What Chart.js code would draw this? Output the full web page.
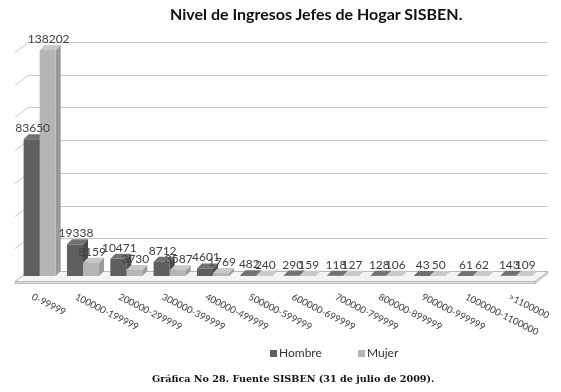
<!DOCTYPE html>
<html>
<head>
<meta charset="utf-8">
<script src="https://cdn.jsdelivr.net/npm/chart.js@4.4.1/dist/chart.umd.min.js"></script>
<style>
  body { margin: 0; background: #fff; }
  #wrap { position: relative; width: 561px; height: 392px; overflow: hidden; }
  #chart { position: absolute; left: 0; top: 0; }
  .title { position: absolute; left: 170px; top: 4px; font: bold 16px Lato, sans-serif; color: #111; white-space: nowrap; }
  .legend { position: absolute; top: 345px; font: 12px Lato, sans-serif; color: #333; white-space: nowrap; }
  .legend i { display: inline-block; width: 7px; height: 7px; margin-right: 2px; }
  .caption { position: absolute; left: 152px; top: 373px; font: bold 9.6px "DejaVu Serif", serif; color: #111; white-space: nowrap; }
</style>
</head>
<body>
<div id="wrap">
  <canvas id="chart" width="561" height="392"></canvas>
  <div class="title">Nivel de Ingresos Jefes de Hogar SISBEN.</div>
  <div class="legend" style="left:270px"><i style="background:#5f5f5f"></i>Hombre</div>
  <div class="legend" style="left:358px"><i style="background:#b5b5b5"></i>Mujer</div>
  <div class="caption">Gráfica No 28. Fuente SISBEN (31 de julio de 2009).</div>
</div>
<script>
const categories = ['0-99999', '100000-199999', '200000-299999', '300000-399999', '400000-499999',
  '500000-599999', '600000-699999', '700000-799999', '800000-899999', '900000-999999',
  '1000000-1100000', '>1100000'];
const hombre = [83650, 19338, 10471, 8712, 4601, 482, 290, 118, 128, 43, 61, 143];
const mujer = [138202, 8159, 3730, 3587, 1769, 240, 159, 127, 106, 50, 62, 109];
const yMax = 140000;
const yStep = 20000;

// colours for front, side and top faces
const shades = [
  { front: '#5f5f5f', side: '#4b4b4b', top: '#727272' },
  { front: '#b5b5b5', side: '#9a9a9a', top: '#c9c9c9' }
];

const depth = 5;

function poly(ctx, pts, fill, stroke) {
  ctx.beginPath();
  ctx.moveTo(pts[0][0], pts[0][1]);
  for (let i = 1; i < pts.length; i++) ctx.lineTo(pts[i][0], pts[i][1]);
  ctx.closePath();
  if (fill) { ctx.fillStyle = fill; ctx.fill(); }
  if (stroke) { ctx.strokeStyle = stroke; ctx.lineWidth = 1; ctx.stroke(); }
}

const fake3d = {
  id: 'fake3d',
  beforeDatasetsDraw(chart) {
    const ctx = chart.ctx;
    const a = chart.chartArea;
    const ys = chart.scales.y;
    ctx.save();
    // back wall grid + left wall slants
    ctx.strokeStyle = '#c8c8c8';
    ctx.lineWidth = 1;
    for (let v = yStep; v <= yMax; v += yStep) {
      const yf = Math.round(ys.getPixelForValue(v)) + 0.5;
      ctx.beginPath();
      ctx.moveTo(a.left - 3, yf + 5);
      ctx.lineTo(a.left + 10, yf - 5);
      ctx.lineTo(a.right + 10, yf - 5);
      ctx.stroke();
    }
    // floor
    const y0 = Math.round(ys.getPixelForValue(0)) + 0.5;
    poly(ctx, [[a.left - 3, y0 + 5], [a.right - 3, y0 + 5], [a.right + 10, y0 - 5], [a.left + 10, y0 - 5]], '#f4f4f4', '#b8b8b8');
    poly(ctx, [[a.left - 3, y0 + 5], [a.right - 3, y0 + 5], [a.right - 3, y0 + 7], [a.left - 3, y0 + 7]], '#e2e2e2', '#b8b8b8');
    poly(ctx, [[a.right - 3, y0 + 5], [a.right + 10, y0 - 5], [a.right + 10, y0 - 3], [a.right - 3, y0 + 7]], '#e2e2e2', '#b8b8b8');

    // side and top faces, drawn before the fronts
    chart.data.datasets.forEach((ds, di) => {
      const meta = chart.getDatasetMeta(di);
      meta.data.forEach(bar => {
        const p = bar.getProps(['x', 'y', 'base', 'width'], true);
        const l = p.x - p.width / 2, r = p.x + p.width / 2;
        const top = p.y, base = p.base;
        poly(ctx, [[r, top], [r + depth, top - depth], [r + depth, base - depth], [r, base]], shades[di].side);
        poly(ctx, [[l, top], [r, top], [r + depth, top - depth], [l + depth, top - depth]], shades[di].top);
      });
    });
    ctx.restore();
  },
  afterDatasetsDraw(chart) {
    const ctx = chart.ctx;
    ctx.save();
    ctx.font = '12px Lato, sans-serif';
    ctx.fillStyle = '#404040';
    ctx.textAlign = 'center';
    ctx.textBaseline = 'alphabetic';
    chart.data.datasets.forEach((ds, di) => {
      chart.getDatasetMeta(di).data.forEach((bar, i) => {
        const p = bar.getProps(['x', 'y'], true);
        ctx.fillText(String(ds.data[i]), p.x + 1, p.y - 7);
      });
    });
    ctx.restore();
  },
  afterDraw(chart) {
    // slanted category labels under the floor
    const ctx = chart.ctx;
    const xs = chart.scales.x;
    ctx.save();
    ctx.font = '9.5px Lato, sans-serif';
    ctx.fillStyle = '#404040';
    ctx.textAlign = 'left';
    ctx.textBaseline = 'top';
    categories.forEach((c, i) => {
      ctx.save();
      ctx.translate(xs.getPixelForValue(i) - 5, 292);
      ctx.rotate(27 * Math.PI / 180);
      ctx.fillText(c, 0, 0);
      ctx.restore();
    });
    ctx.restore();
  }
};

new Chart(document.getElementById('chart'), {
  type: 'bar',
  data: {
    labels: categories,
    datasets: [
      { label: 'Hombre', data: hombre, backgroundColor: shades[0].front, borderWidth: 0 },
      { label: 'Mujer', data: mujer, backgroundColor: shades[1].front, borderWidth: 0 }
    ]
  },
  options: {
    responsive: false,
    animation: false,
    layout: { padding: { left: 18, right: 23, top: 47, bottom: 116 } },
    categoryPercentage: 0.74,
    barPercentage: 1.0,
    scales: {
      x: { display: false },
      y: { display: false, min: 0, max: yMax }
    },
    plugins: {
      legend: { display: false },
      title: { display: false },
      tooltip: { enabled: false }
    }
  },
  plugins: [fake3d]
});
</script>
</body>
</html>
